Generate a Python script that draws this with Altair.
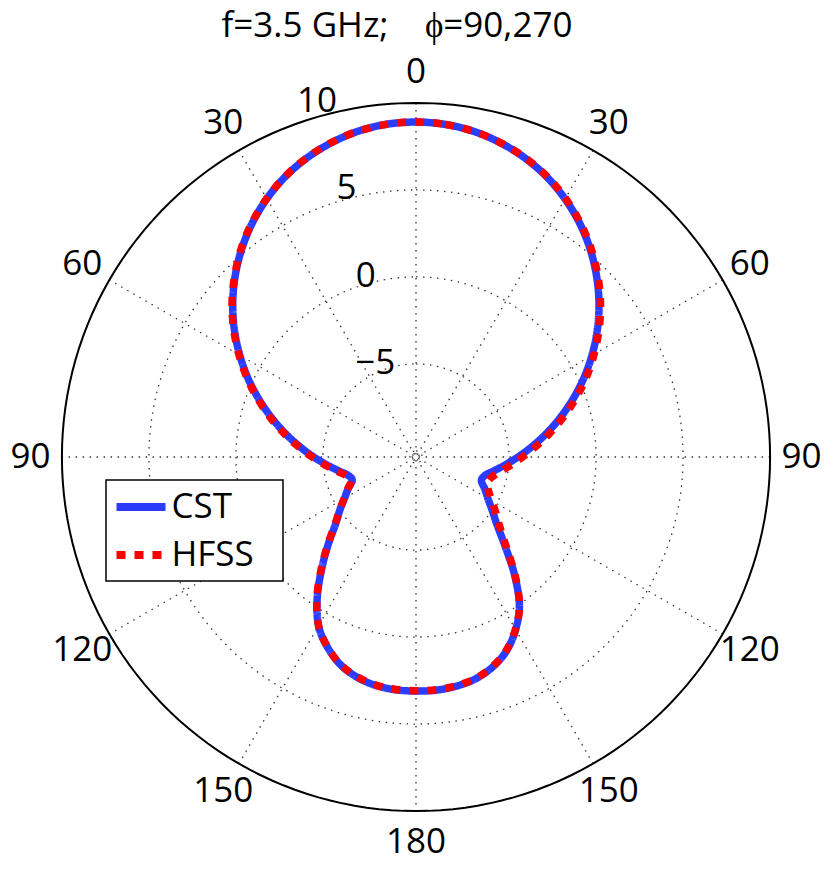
import altair as alt
import pandas as pd

# ---------------- data ----------------
SERIES = ["CST", "HFSS"]
SERIES_COLORS = ["#2b3bff", "#ff0000"]
SERIES_DASH = [[1, 0], [9, 9]]

# angle measured clockwise from the top (0..180 right half, 180..360 left half)
ANGLES = list(range(0, 360, 5))
CST_DB = [8.90, 8.84, 8.66, 8.35, 7.94, 7.42, 6.78, 6.05, 5.23, 4.33, 3.38, 2.37,
          1.32, 0.27, -0.79, -1.81, -2.78, -3.68, -4.49, -5.20, -5.80, -6.25, -6.35,
          -5.98, -5.58, -5.00, -4.26, -3.11, -1.55, 0.01, 1.10, 1.95, 2.50, 2.85,
          3.02, 3.10, 3.10,
          3.08, 2.98, 2.75, 2.35, 1.70, 0.85, -0.45, -1.90, -3.20, -4.30, -5.00,
          -5.60, -6.05, -6.45, -6.30, -5.82, -5.20, -4.47, -3.66, -2.76, -1.79,
          -0.77, 0.29, 1.34, 2.39, 3.40, 4.35, 5.24, 6.06, 6.79, 7.43, 7.95, 8.36,
          8.67, 8.85]
HFSS_DB = [8.90, 8.84, 8.66, 8.36, 7.96, 7.45, 6.82, 6.10, 5.30, 4.42, 3.49, 2.50,
           1.47, 0.44, -0.60, -1.60, -2.55, -3.43, -4.22, -4.90, -5.45, -5.85, -5.98,
           -5.75, -5.30, -4.75, -4.05, -3.00, -1.50, 0.02, 1.08, 1.92, 2.48, 2.83,
           3.00, 3.08, 3.08,
           3.06, 2.96, 2.73, 2.34, 1.69, 0.85, -0.42, -1.85, -3.15, -4.25, -4.98,
           -5.58, -6.02, -6.40, -6.20, -5.72, -5.10, -4.38, -3.57, -2.68, -1.71,
           -0.70, 0.35, 1.40, 2.44, 3.45, 4.39, 5.28, 6.09, 6.81, 7.44, 7.96, 8.37,
           8.67, 8.85]

R_MIN = -10.35          # value at the centre of the polar plot
R_MAX = 10              # outer circle
RING_DB = [-10, -5, 0, 5]
SPOKE_ANGLES = [0, 30, 60, 90, 120, 150]
ANGLE_TICKS = [0, 30, 60, 90, 120, 150, 180, 210, 240, 270, 300, 330]
ANGLE_TICK_LABELS = ["0", "30", "60", "90", "120", "150", "180",
                     "150", "120", "90", "60", "30"]
R_TICK_VALUES = [-5, 0, 5, 10]
R_TICK_LABELS = ["\u22125", "0", "5", "10"]
TITLE = "f=3.5 GHz;\u00a0\u00a0\u00a0\u00a0\u03d5=90,270"

# ---------------- layout ----------------
FONT = "Open Sans"
FS = 35
W, H = 815, 856
CX, CY = 408, 449
PX_PER_UNIT = 17.4

xs = alt.Scale(domain=[-CX / PX_PER_UNIT, (W - CX) / PX_PER_UNIT], nice=False, zero=False)
ys = alt.Scale(domain=[-(H - CY) / PX_PER_UNIT, CY / PX_PER_UNIT], nice=False, zero=False)
X = alt.X("x:Q", scale=xs, axis=None)
Y = alt.Y("y:Q", scale=ys, axis=None)


def polar(chart, r_expr, t_expr):
    return chart.transform_calculate(
        x=f"({r_expr}) * sin(({t_expr}) * PI / 180)",
        y=f"({r_expr}) * cos(({t_expr}) * PI / 180)",
    )


# pattern data
rows = []
for s, vals in zip(SERIES, [CST_DB, HFSS_DB]):
    for i, (a, v) in enumerate(zip(ANGLES, vals)):
        rows.append({"series": s, "theta": a, "db": v, "idx": i})
pattern = pd.DataFrame(rows)

# grid circles
ring_rows = []
for rdb in RING_DB + [R_MAX]:
    for k, a in enumerate(range(0, 361, 2)):
        ring_rows.append({"ring": rdb, "db": rdb, "theta": a, "k": k, "outer": rdb == R_MAX})
rings_df = pd.DataFrame(ring_rows)

spoke_rows = []
for a in SPOKE_ANGLES:
    spoke_rows.append({"spoke": a, "theta": a, "db": R_MAX, "k": 0})
    spoke_rows.append({"spoke": a, "theta": a + 180, "db": R_MAX, "k": 1})
spokes_df = pd.DataFrame(spoke_rows)

R_EXPR = f"datum.db - ({R_MIN})"

dotted_rings = polar(
    alt.Chart(rings_df[~rings_df["outer"]]), R_EXPR, "datum.theta"
).mark_line(color="#333333", strokeWidth=1.3, strokeDash=[1.5, 5.5]).encode(
    x=X, y=Y, detail="ring:N", order="k:Q"
)

outer_ring = polar(
    alt.Chart(rings_df[rings_df["outer"]]), R_EXPR, "datum.theta"
).mark_line(color="black", strokeWidth=2).encode(x=X, y=Y, order="k:Q")

spokes = polar(
    alt.Chart(spokes_df), R_EXPR, "datum.theta"
).mark_line(color="#333333", strokeWidth=1.3, strokeDash=[1.5, 5.5]).encode(
    x=X, y=Y, detail="spoke:N", order="k:Q"
)

# legend frame (white box with black border, drawn under the legend entries)
legend_box = alt.Chart(pd.DataFrame({"k": [0]})).mark_rect(
    fill="white", stroke="black", strokeWidth=1.5
).encode(x=alt.value(98), x2=alt.value(275), y=alt.value(472), y2=alt.value(573))

legend = alt.Legend(
    title=None, orient="none", legendX=98, legendY=469,
    symbolType="stroke", symbolSize=2401, symbolStrokeWidth=8,
    labelFontSize=FS, labelFont=FONT, labelColor="black",
    padding=1.5, rowPadding=1, symbolOffset=5, labelOffset=2,
)

lines = polar(alt.Chart(pattern), R_EXPR, "datum.theta").mark_line(
    interpolate="cardinal-closed", strokeWidth=7.5, strokeCap="butt"
).encode(
    x=X, y=Y,
    color=alt.Color("series:N", scale=alt.Scale(domain=SERIES, range=SERIES_COLORS), legend=legend),
    strokeDash=alt.StrokeDash("series:N", scale=alt.Scale(domain=SERIES, range=SERIES_DASH), legend=legend),
    order=alt.Order("idx:Q"),
)

angle_df = pd.DataFrame({"theta": ANGLE_TICKS, "label": ANGLE_TICK_LABELS})
angle_text = polar(
    alt.Chart(angle_df), f"({R_MAX} - ({R_MIN})) + 1.8", "datum.theta"
).mark_text(font=FONT, fontSize=FS, align="center", baseline="middle", color="black").encode(
    x=X, y=Y, text="label:N"
)

rtick_df = pd.DataFrame({"db": R_TICK_VALUES, "label": R_TICK_LABELS})
rtick_text = polar(
    alt.Chart(rtick_df), f"(datum.db - ({R_MIN})) * 1.03", "-12.5"
).mark_text(font=FONT, fontSize=FS, align="right", baseline="middle", color="black").encode(
    x=X, y=Y, text="label:N"
)

title_text = alt.Chart(pd.DataFrame({"t": [TITLE]})).mark_text(
    font=FONT, fontSize=FS, align="center", baseline="top", color="black"
).encode(x=alt.value(389), y=alt.value(1), text="t:N")

chart = alt.layer(
    dotted_rings, spokes, outer_ring, legend_box, lines, angle_text, rtick_text, title_text
).properties(
    width=W, height=H, padding=0, autosize=alt.AutoSizeParams(type="none"),
    background="white",
).configure_view(stroke=None)

chart.save("out.html", embed_options={"renderer": "svg", "actions": False})
